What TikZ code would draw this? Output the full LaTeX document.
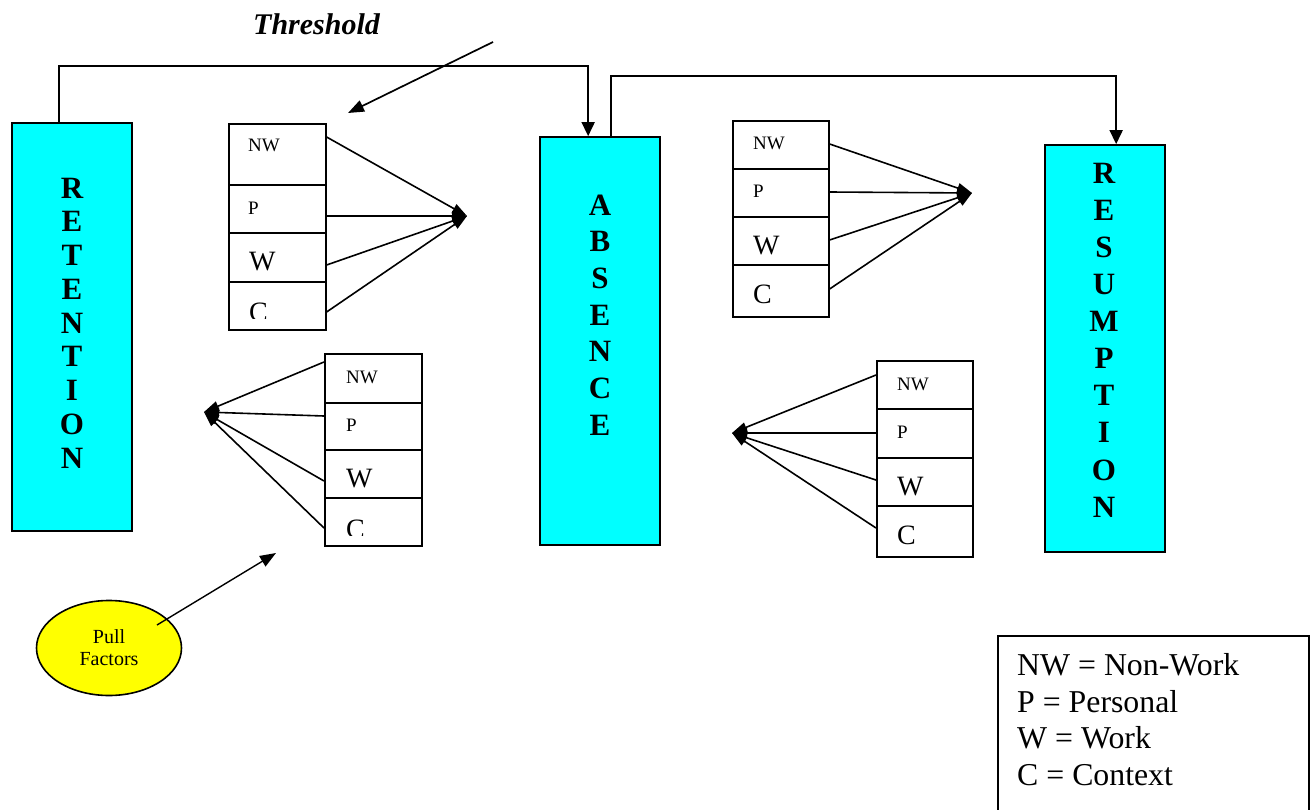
\documentclass[tikz,border=0pt]{standalone}
\usepackage{fontspec}
\setmainfont{Liberation Serif}
\usetikzlibrary{arrows.meta,shapes.geometric,calc}
\definecolor{aqua}{RGB}{0,255,255}
\definecolor{yel}{RGB}{255,255,0}
\begin{document}
\begin{tikzpicture}[x=1pt,y=-1pt,
  ln/.style={line width=1.7pt},
  arr/.style={ln,-{Triangle[length=14pt,width=13pt]}},
  conv/.style={line width=1.6pt,-{Triangle[length=15pt,width=10pt]}},
  bigbox/.style={draw,line width=1.7pt,fill=aqua,minimum width=120pt,inner sep=0pt,rectangle},
  cell/.style={draw,line width=1.6pt,anchor=north west,inner sep=0pt,rectangle},
  sm/.style={font=\fontsize{19}{22}\selectfont,anchor=base west,inner sep=0pt},
  lg/.style={font=\fontsize{28}{32}\selectfont,anchor=base west,inner sep=0pt},
  leg/.style={font=\fontsize{31.8}{36}\selectfont,anchor=base west,inner sep=0pt}]

\useasboundingbox (0,0) rectangle (1314,810);

% main boxes
\node[bigbox,minimum height=408pt] (ret) at (72,327) {};
\node[bigbox,minimum height=408pt] (abs) at (600,341) {};
\node[bigbox,minimum height=407pt] (res) at (1105,348.5) {};

\node[font=\bfseries\fontsize{31}{33.75}\selectfont,align=center,inner sep=0pt] (rett) at (72,323)
  {R\\E\\T\\E\\N\\T\\I\\O\\N};
\node[font=\bfseries\fontsize{31}{36.7}\selectfont,align=center,inner sep=0pt] (abst) at (600,315)
  {A\\B\\S\\E\\N\\C\\E};
\node[font=\bfseries\fontsize{31}{37.1}\selectfont,align=center,inner sep=0pt] (rest) at (1104,340)
  {R\\E\\S\\U\\M\\P\\T\\I\\O\\N};

% top connectors
\draw[arr] ([xshift=48pt]ret.north west) -- ++(0,-56) -| ([xshift=49pt]abs.north west);
\draw[arr] ([xshift=72pt]abs.north west) -- ++(0,-60) -| ([xshift=72pt]res.north west);

% threshold
\node[font=\bfseries\itshape\fontsize{30}{34}\selectfont,anchor=base west,inner sep=0pt] (thr) at (253,35) {Threshold};
\coordinate (thA) at (493,42);
\coordinate (thB) at (348,113);
\draw[ln,-{Triangle[length=16pt,width=12pt]}] (thA) -- (thB);

% top-left stack
\node[cell,minimum width=97pt,minimum height=61pt] (a1) at (228,123) {};
\node[cell,minimum width=97pt,minimum height=48pt] (a2) at (228,184) {};
\node[cell,minimum width=97pt,minimum height=49pt] (a3) at (228,232) {};
\node[cell,minimum width=97pt,minimum height=48pt] (a4) at (228,281) {};
\node[sm] (a1t) at (248,152) {NW};
\node[sm] (a2t) at (248,215) {P};
\node[lg] (a3t) at (249,271) {W};
\begin{scope}
\clip (228,281) rectangle (325,318);
\node[lg] (a4t) at (249,321) {C};
\end{scope}
\coordinate (ta) at (467,216);
\draw[conv] ($(a1.north east)+(0,14)$) -- (ta);
\draw[conv] ($(a2.north east)+(0,32)$) -- (ta);
\draw[conv] ($(a3.north east)+(0,33)$) -- (ta);
\draw[conv] ($(a4.north east)+(0,31)$) -- (ta);

% top-right stack
\node[cell,minimum width=96pt,minimum height=48pt] (b1) at (732,120) {};
\node[cell,minimum width=96pt,minimum height=48pt] (b2) at (732,168) {};
\node[cell,minimum width=96pt,minimum height=48pt] (b3) at (732,216) {};
\node[cell,minimum width=96pt,minimum height=52pt] (b4) at (732,264) {};
\node[sm] (b1t) at (753,150) {NW};
\node[sm] (b2t) at (753,198) {P};
\node[lg] (b3t) at (753,255) {W};
\node[lg] (b4t) at (753,303) {C};
\coordinate (tb) at (972,193);
\draw[conv] ($(b1.north east)+(0,24)$) -- (tb);
\draw[conv] ($(b2.north east)+(0,24)$) -- (tb);
\draw[conv] ($(b3.north east)+(0,24)$) -- (tb);
\draw[conv] ($(b4.north east)+(0,25)$) -- (tb);

% lower-left stack
\node[cell,minimum width=97pt,minimum height=49pt] (c1) at (324,353) {};
\node[cell,minimum width=97pt,minimum height=47pt] (c2) at (324,402) {};
\node[cell,minimum width=97pt,minimum height=48pt] (c3) at (324,449) {};
\node[cell,minimum width=97pt,minimum height=48pt] (c4) at (324,497) {};
\node[sm] (c1t) at (346,383) {NW};
\node[sm] (c2t) at (346,431) {P};
\node[lg] (c3t) at (346,487) {W};
\begin{scope}
\clip (324,497) rectangle (421,535);
\node[lg] (c4t) at (346,538) {C};
\end{scope}
\coordinate (tc) at (204,412);
\draw[conv] ($(c1.north west)+(0,9)$) -- (tc);
\draw[conv] ($(c2.north west)+(0,14)$) -- (tc);
\draw[conv] ($(c3.north west)+(0,32)$) -- (tc);
\draw[conv] ($(c4.north west)+(0,31)$) -- (tc);

% lower-right stack
\node[cell,minimum width=96pt,minimum height=48pt] (d1) at (876,360) {};
\node[cell,minimum width=96pt,minimum height=49pt] (d2) at (876,408) {};
\node[cell,minimum width=96pt,minimum height=48pt] (d3) at (876,457) {};
\node[cell,minimum width=96pt,minimum height=51pt] (d4) at (876,505) {};
\node[sm] (d1t) at (897,390) {NW};
\node[sm] (d2t) at (897,438) {P};
\node[lg] (d3t) at (897,495) {W};
\node[lg] (d4t) at (897,544) {C};
\coordinate (td) at (732,433);
\draw[conv] ($(d1.north west)+(0,15)$) -- (td);
\draw[conv] ($(d2.north west)+(0,25)$) -- (td);
\draw[conv] ($(d3.north west)+(0,23)$) -- (td);
\draw[conv] ($(d4.north west)+(0,23)$) -- (td);

% pull factors
\node[ellipse,draw,line width=1.6pt,fill=yel,minimum width=145pt,minimum height=95pt,
  align=center,font=\fontsize{20}{22}\selectfont,inner sep=0pt] (pf) at (109,648) {Pull\\Factors};
\coordinate (pfB) at (276,553);
\draw[line width=1.4pt,-{Triangle[length=16pt,width=12pt]}] ($(pf.center)+(48,-23)$) -- (pfB);

% legend
\node[draw,line width=1.6pt,anchor=north west,minimum width=311pt,minimum height=190pt,inner sep=0pt] (legbox) at (997,635) {};
\node[leg] (l1) at (1017,675) {NW = Non-Work};
\node[leg] (l2) at (1017,712) {P = Personal};
\node[leg] (l3) at (1017,748) {W = Work};
\node[leg] (l4) at (1017,785) {C = Context};
\end{tikzpicture}
\end{document}
